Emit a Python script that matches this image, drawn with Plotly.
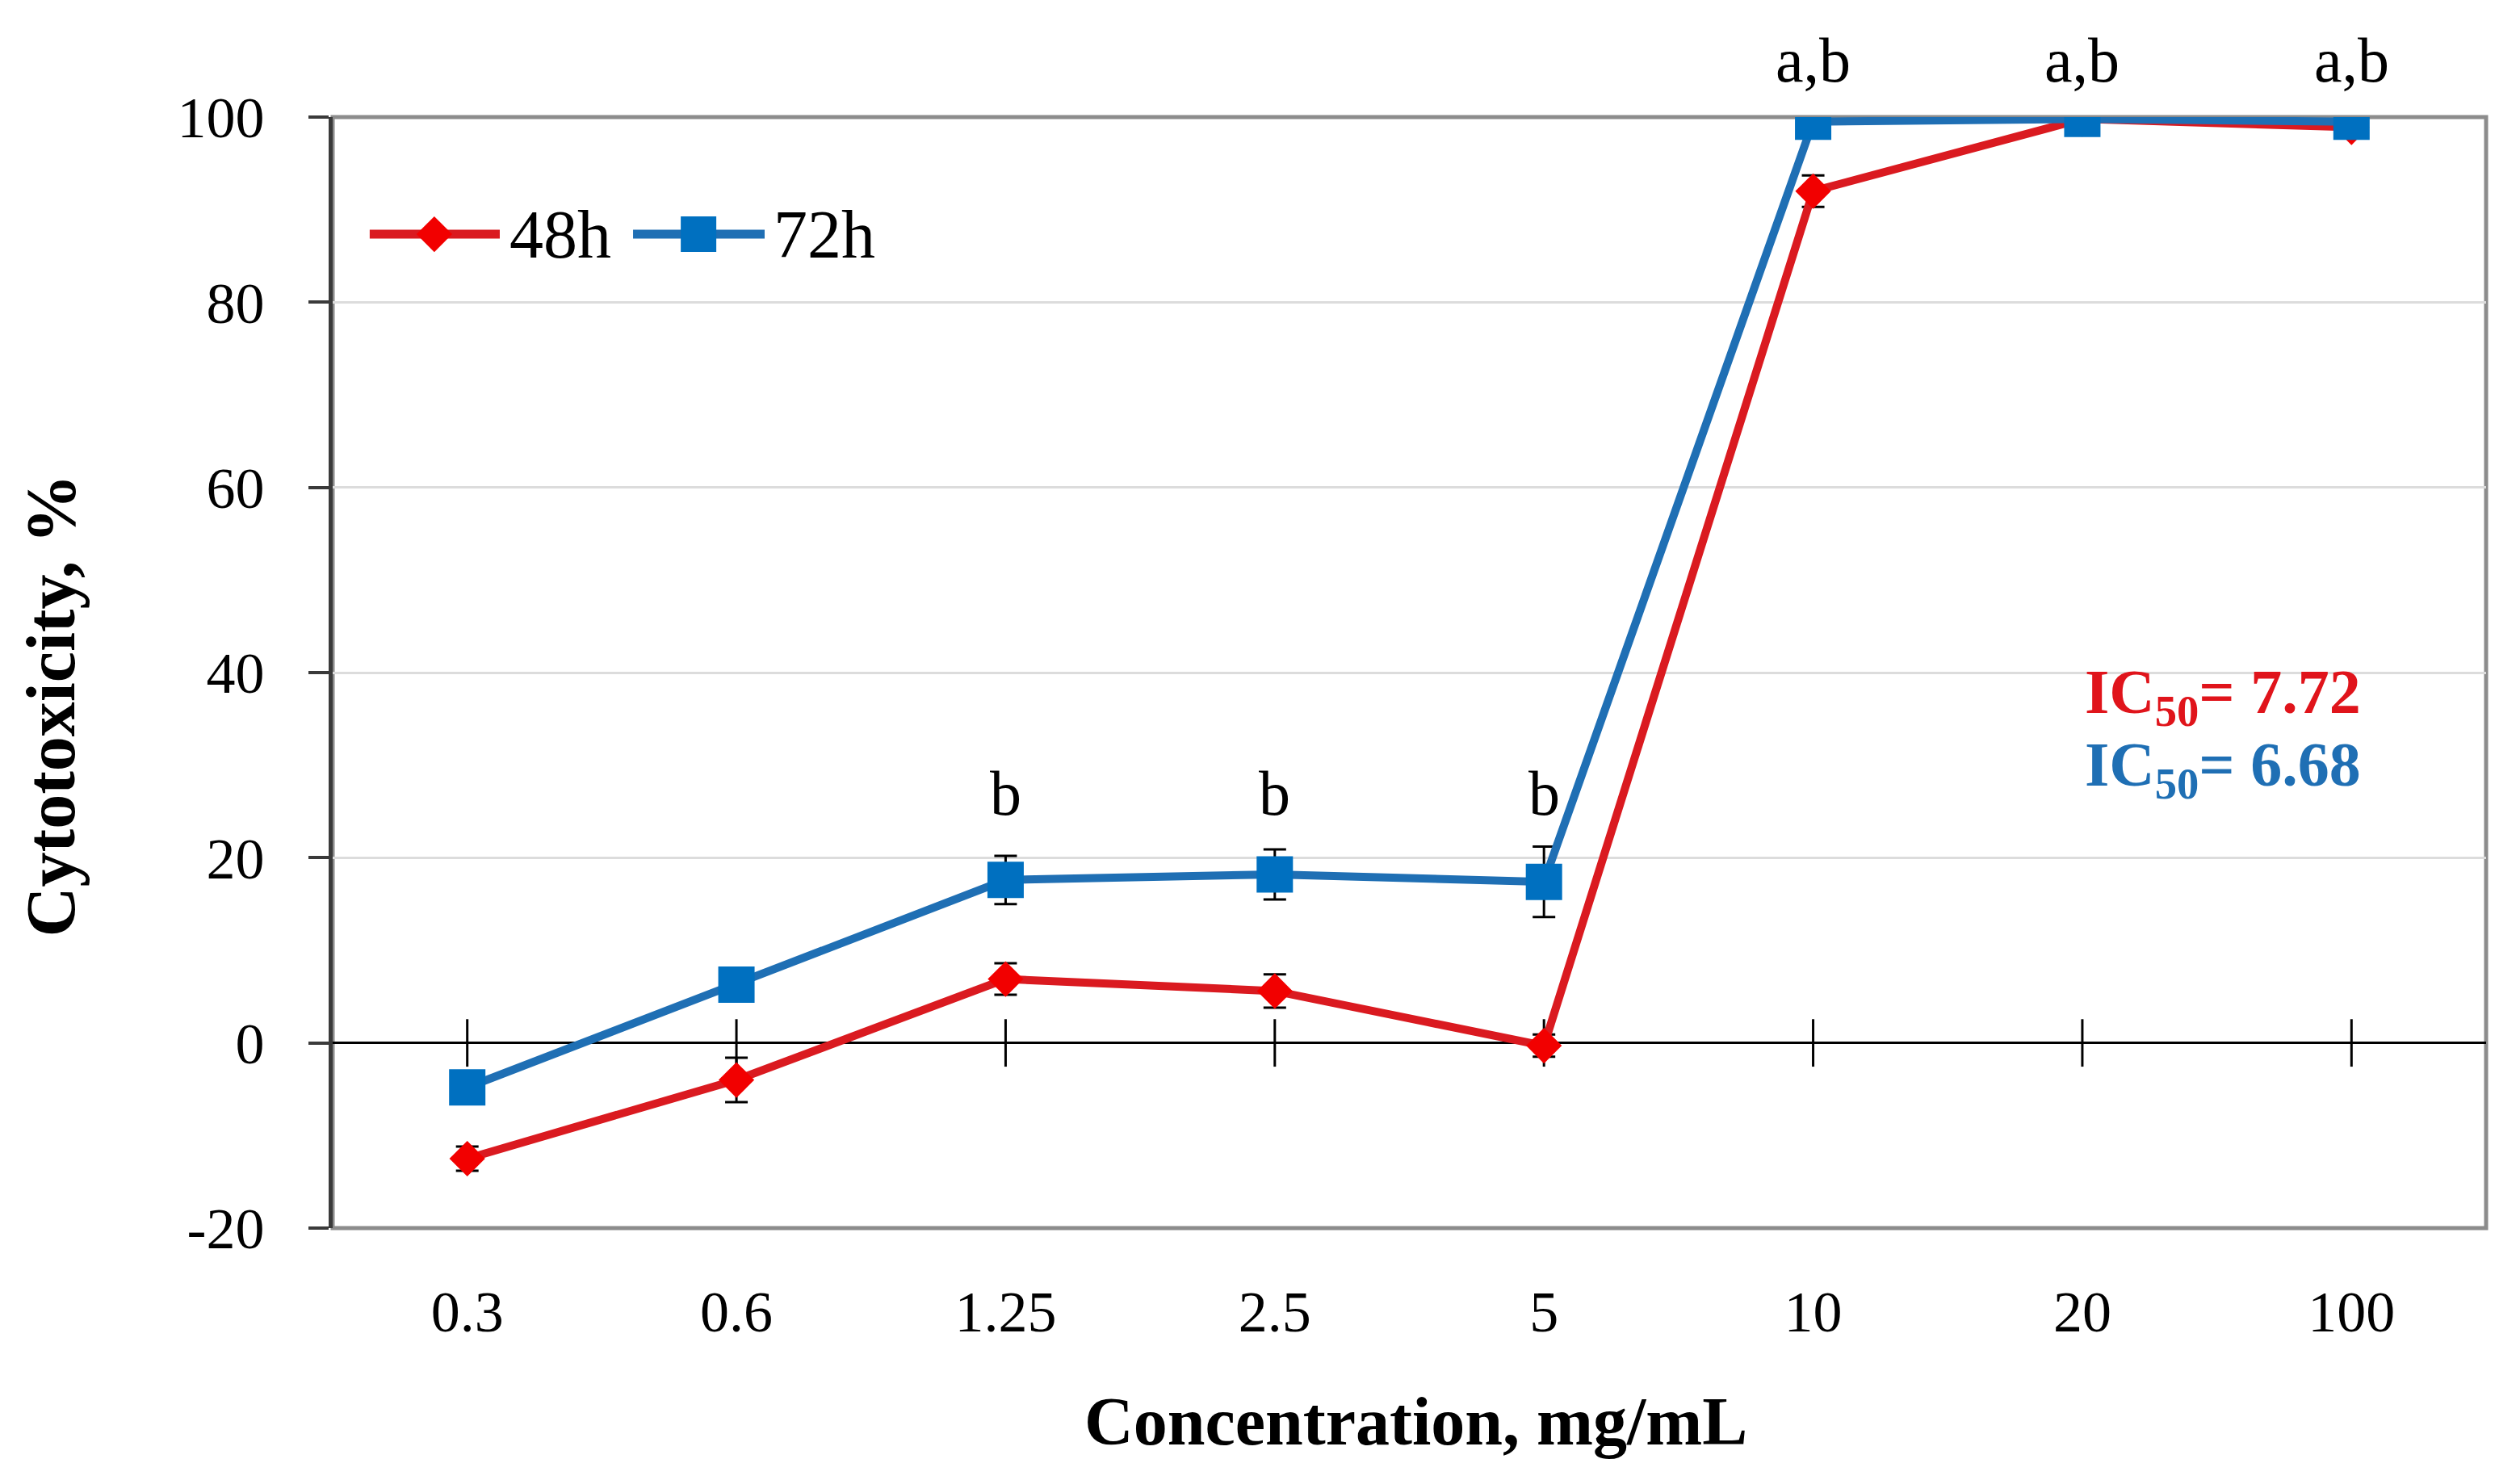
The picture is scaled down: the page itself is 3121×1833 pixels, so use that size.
import plotly.graph_objects as go

concentrations = ["0.3", "0.6", "1.25", "2.5", "5", "10", "20", "100"]
cyto_48h = [-12.5, -4.0, 6.9, 5.6, -0.3, 92.0, 99.8, 98.9]
err_48h = [1.3, 2.4, 1.7, 1.8, 1.2, 1.7, 0.3, 0.5]
cyto_72h = [-4.8, 6.3, 17.6, 18.2, 17.4, 99.5, 99.8, 99.5]
err_72h = [0.5, 1.5, 2.6, 2.7, 3.8, 0.4, 0.3, 0.4]
sig_labels = ["", "", "b", "b", "b", "a,b", "a,b", "a,b"]
series_names = ["48h", "72h"]
ic50_values = ["7.72", "6.68"]
y_ticks = [-20, 0, 20, 40, 60, 80, 100]

FONT = "Liberation Serif"
RED_LINE = "#DA1A20"
RED_MARK = "#F20000"
BLUE_LINE = "#1F6FB4"
BLUE_MARK = "#0070C0"
Y_MIN, Y_MAX = -20, 100

# custom legend layout (fractions of the plot area)
LEG_Y = 0.8946
LEG_ITEMS = [
    dict(x0=0.0172, x1=0.0776, xm=0.0472, xt=0.0815, line=RED_LINE, mark=RED_MARK, symbol="diamond", size=34),
    dict(x0=0.1395, x1=0.2006, xm=0.1699, xt=0.2040, line=BLUE_LINE, mark=BLUE_MARK, symbol="square", size=44),
]

idx = list(range(len(concentrations)))

fig = go.Figure()

# cross ticks on the zero line at each category
fig.add_trace(go.Scatter(
    x=idx, y=[0] * len(idx), mode="markers",
    marker=dict(symbol="line-ns", size=42, line=dict(width=3, color="#000000")),
    showlegend=False, hoverinfo="skip"))

fig.add_trace(go.Scatter(
    x=idx, y=cyto_48h, name=series_names[0], mode="lines+markers",
    line=dict(color=RED_LINE, width=10),
    marker=dict(symbol="diamond", size=34, color=RED_MARK),
    error_y=dict(type="data", array=err_48h, color="#000000", thickness=3, width=14),
    showlegend=False))

fig.add_trace(go.Scatter(
    x=idx, y=cyto_72h, name=series_names[1], mode="lines+markers",
    line=dict(color=BLUE_LINE, width=10),
    marker=dict(symbol="square", size=45, color=BLUE_MARK),
    error_y=dict(type="data", array=err_72h, color="#000000", thickness=3, width=14),
    showlegend=False))

annotations = []
for item, name in zip(LEG_ITEMS, series_names):
    fig.add_trace(go.Scatter(x=[item["x0"], item["x1"]], y=[LEG_Y, LEG_Y], mode="lines",
                             line=dict(color=item["line"], width=11), xaxis="x2", yaxis="y2",
                             showlegend=False, hoverinfo="skip"))
    fig.add_trace(go.Scatter(x=[item["xm"]], y=[LEG_Y], mode="markers",
                             marker=dict(symbol=item["symbol"], size=item["size"], color=item["mark"]),
                             xaxis="x2", yaxis="y2", showlegend=False, hoverinfo="skip"))
    annotations.append(dict(x=item["xt"], y=LEG_Y, xref="paper", yref="paper", xanchor="left",
                            yanchor="middle", text=name, showarrow=False,
                            font=dict(family=FONT, size=84, color="#000000")))

for i, lab in zip(idx, sig_labels):
    if not lab:
        continue
    if lab == "b":
        annotations.append(dict(x=i, y=27, xref="x", yref="y", text=lab, showarrow=False,
                                font=dict(family=FONT, size=78, color="#000000"), yanchor="middle"))
    else:
        annotations.append(dict(x=i, y=1.051, xref="x", yref="paper", text=lab, showarrow=False,
                                font=dict(family=FONT, size=78, color="#000000"), yanchor="middle"))

annotations.append(dict(x=0.9426, y=0.479, xref="paper", yref="paper", xanchor="right", yanchor="middle",
                        text="<b>IC<sub>50</sub>= " + ic50_values[0] + "</b>", showarrow=False,
                        font=dict(family=FONT, size=78, color="#E0141B")))
annotations.append(dict(x=0.9426, y=0.4135, xref="paper", yref="paper", xanchor="right", yanchor="middle",
                        text="<b>IC<sub>50</sub>= " + ic50_values[1] + "</b>", showarrow=False,
                        font=dict(family=FONT, size=78, color="#1F6FB4")))

annotations.append(dict(x=-0.1495, y=0.47, xref="paper", yref="paper", textangle=-90,
                        text="<b>Cytotoxicity, %</b>", showarrow=False,
                        font=dict(family=FONT, size=86, color="#000000")))
annotations.append(dict(x=0.503, y=-0.209, xref="paper", yref="paper",
                        text="<b>Concentration, mg/mL</b>", showarrow=False,
                        font=dict(family=FONT, size=84, color="#000000")))

fig.update_layout(
    width=3121, height=1833,
    margin=dict(l=404, r=50, t=137, b=320),
    paper_bgcolor="white", plot_bgcolor="white",
    font=dict(family=FONT, size=72, color="#000000"),
    annotations=annotations,
    showlegend=False,
    shapes=[dict(type="rect", xref="paper", yref="paper", x0=0, y0=0, x1=1, y1=1,
                 line=dict(color="#8C8C8C", width=5), layer="below")],
    xaxis=dict(range=[-0.5, len(idx) - 0.5], tickvals=idx, ticktext=concentrations,
               showgrid=False, zeroline=False, showline=False,
               ticks="outside", ticklen=41, tickcolor="rgba(0,0,0,0)",
               tickfont=dict(family=FONT, size=72)),
    yaxis=dict(range=[Y_MIN, Y_MAX], tickvals=y_ticks, ticktext=[str(v) for v in y_ticks],
               showgrid=True, gridcolor="#DCDCDC", gridwidth=3,
               zeroline=True, zerolinecolor="#000000", zerolinewidth=3,
               showline=True, linecolor="#3A3A3A", linewidth=5,
               ticks="outside", ticklen=25, tickwidth=4, tickcolor="#3A3A3A",
               ticklabelstandoff=40, tickfont=dict(family=FONT, size=72)),
    xaxis2=dict(overlaying="x", anchor="y2", range=[0, 1], visible=False),
    yaxis2=dict(overlaying="y", anchor="x2", range=[0, 1], visible=False),
)

fig.write_html("out.html")
